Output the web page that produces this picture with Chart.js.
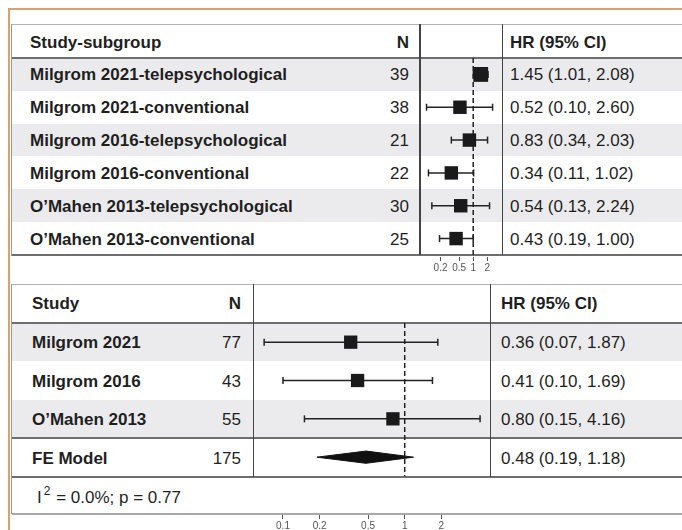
<!DOCTYPE html>
<html>
<head>
<meta charset="utf-8">
<title>Forest plot</title>
<script src="https://cdn.jsdelivr.net/npm/chart.js@4.4.1/dist/chart.umd.min.js"></script>
<style>
  html, body { margin: 0; padding: 0; background: #fff; }
  body {
    position: relative; width: 682px; height: 530px; overflow: hidden;
    font-family: "Liberation Sans", Arial, Helvetica, sans-serif; color: #1f1f1f;
  }
  #table { position: absolute; left: 0; top: 0; width: 682px; height: 530px; }
  .cell { position: absolute; font-size: 17px; line-height: 20px; white-space: nowrap; }
  .b { font-weight: bold; }
  .cell sup { font-size: 12px; position: relative; top: -7px; vertical-align: top; margin-left: 2px; margin-right: 1px; }
  canvas { position: absolute; z-index: 1; }
</style>
</head>
<body>
<div id="table"></div>
<canvas id="subgroupPlot"></canvas>
<canvas id="studyPlot"></canvas>
<script>
// Per study and intervention arm
var subgroupLabels = [
    'Milgrom 2021-telepsychological',
    'Milgrom 2021-conventional',
    'Milgrom 2016-telepsychological',
    'Milgrom 2016-conventional',
    'O\u2019Mahen 2013-telepsychological',
    'O\u2019Mahen 2013-conventional'
];
var subgroupN = [39, 38, 21, 22, 30, 25];
var subgroupHR = [1.45, 0.52, 0.83, 0.34, 0.54, 0.43];
var subgroupLower = [1.01, 0.10, 0.34, 0.11, 0.13, 0.19];
var subgroupUpper = [2.08, 2.60, 2.03, 1.02, 2.24, 1.00];
var subgroupTicks = [0.2, 0.5, 1, 2];

// Per study, plus the fixed-effect pooled estimate
var studyLabels = ['Milgrom 2021', 'Milgrom 2016', 'O\u2019Mahen 2013'];
var studyN = [77, 43, 55];
var studyHR = [0.36, 0.41, 0.80];
var studyLower = [0.07, 0.10, 0.15];
var studyUpper = [1.87, 1.69, 4.16];
var pooledLabel = 'FE Model';
var pooledN = 175;
var pooledHR = 0.48;
var pooledLower = 0.19;
var pooledUpper = 1.18;
var studyTicks = [0.1, 0.2, 0.5, 1, 2];
var i2Value = '0.0%';
var pValue = '0.77';

var INK = '#222';
var BAND = '#ebebed';
var table = document.getElementById('table');

function rect(left, top, width, height, color) {
    var d = document.createElement('div');
    d.style.cssText = 'position:absolute;left:' + left + 'px;top:' + top + 'px;width:' +
        width + 'px;height:' + height + 'px;background:' + color + ';';
    table.appendChild(d);
}

function cell(html, x, yMid, bold, alignRight) {
    var d = document.createElement('div');
    d.className = 'cell' + (bold ? ' b' : '');
    d.innerHTML = html;
    d.style.top = (yMid - 9) + 'px';
    if (alignRight) {
        d.style.right = (682 - x) + 'px';
    } else {
        d.style.left = x + 'px';
    }
    table.appendChild(d);
}

function ciText(hr, lo, hi) {
    return hr.toFixed(2) + ' (' + lo.toFixed(2) + ', ' + hi.toFixed(2) + ')';
}

// outer frame
rect(8, 8, 2, 522, '#d8a26f');
rect(8, 8, 674, 2, '#d8a26f');

// ---- subgroup table ----
var topRowH = (255 - 58) / 6;
subgroupLabels.forEach(function(label, i) {
    var y0 = 58 + i * topRowH;
    if (i % 2 === 0) {
        rect(12, y0, 680, topRowH, BAND);
    }
    var mid = y0 + topRowH / 2;
    cell(label, 30, mid, true, false);
    cell(String(subgroupN[i]), 409, mid, false, true);
    cell(ciText(subgroupHR[i], subgroupLower[i], subgroupUpper[i]), 510, mid, false, false);
});
rect(12, 24, 680, 1, '#b4b4b4');
rect(12, 57, 680, 2, '#6e6e6e');
rect(12, 254, 680, 2, '#6e6e6e');
rect(11, 24, 1, 232, '#9a9a9a');
rect(419, 24, 1.5, 231, '#444');
rect(501.5, 24, 1.5, 231, '#444');
cell('Study-subgroup', 30, 42, true, false);
cell('N', 409, 42, true, true);
cell('HR (95% CI)', 510, 42, true, false);

// ---- study table ----
var botRowH = (438 - 323) / 3;
studyLabels.forEach(function(label, i) {
    var y0 = 323 + i * botRowH;
    if (i % 2 === 0) {
        rect(12, y0, 680, botRowH, BAND);
    }
    var mid = y0 + botRowH / 2;
    cell(label, 32, mid, true, false);
    cell(String(studyN[i]), 241, mid, false, true);
    cell(ciText(studyHR[i], studyLower[i], studyUpper[i]), 501, mid, false, false);
});
cell(pooledLabel, 32, 458, true, false);
cell(String(pooledN), 241, 458, false, true);
cell(ciText(pooledHR, pooledLower, pooledUpper), 501, 458, false, false);
cell('I<sup>2</sup> = ' + i2Value + '; p = ' + pValue, 37, 497, false, false);
rect(12, 284, 680, 1, '#b4b4b4');
rect(12, 322, 680, 2, '#6e6e6e');
rect(12, 437, 680, 2, '#6e6e6e');
rect(12, 476, 680, 2, '#6e6e6e');
rect(12, 513, 680, 1.5, '#a8a8a8');
rect(11, 284, 1, 230, '#9a9a9a');
rect(252.5, 284, 1.5, 193, '#444');
rect(489.5, 284, 1.5, 193, '#444');
cell('Study', 32, 303, true, false);
cell('N', 241, 303, true, true);
cell('HR (95% CI)', 501, 303, true, false);

// ---- forest plots ----
Chart.defaults.font.family = '"Liberation Sans", Arial, sans-serif';

function whisker(lo, hi, row) {
    return {
        data: [{x: lo, y: row}, {x: hi, y: row}],
        borderColor: INK,
        borderWidth: 1.5,
        pointStyle: 'line',
        pointRotation: 90,
        pointRadius: 3.5,
        pointBorderColor: INK,
        pointBorderWidth: 1.5,
        order: 2
    };
}

function squares(hr, radius) {
    return {
        data: hr.map(function(v, i) { return {x: v, y: i + 1}; }),
        showLine: false,
        pointStyle: 'rect',
        pointRadius: radius,
        pointBackgroundColor: '#1a1a1a',
        pointBorderWidth: 0,
        order: 0
    };
}

function refLine(yTo) {
    return {
        data: [{x: 1, y: 0.5}, {x: 1, y: yTo}],
        borderColor: INK,
        borderWidth: 1.5,
        borderDash: [5, 3],
        pointRadius: 0,
        order: 1
    };
}

function makeForest(id, left, top, width, height, axisH, xMin, xMax, yMax, ticks, datasets) {
    var canvas = document.getElementById(id);
    canvas.width = width;
    canvas.height = height;
    canvas.style.left = left + 'px';
    canvas.style.top = top + 'px';
    return new Chart(canvas, {
        type: 'line',
        data: {datasets: datasets},
        options: {
            responsive: false,
            animation: false,
            layout: {padding: 0, autoPadding: false},
            plugins: {legend: {display: false}, tooltip: {enabled: false}},
            scales: {
                x: {
                    type: 'logarithmic',
                    min: xMin,
                    max: xMax,
                    border: {display: false},
                    grid: {drawOnChartArea: false, drawTicks: true, tickLength: 4, color: '#555'},
                    ticks: {
                        autoSkip: false,
                        maxRotation: 0,
                        padding: 1,
                        color: '#555',
                        font: {size: 10},
                        callback: function(value) {
                            return String(value);
                        }
                    },
                    afterBuildTicks: function(scale) {
                        scale.ticks = ticks.map(function(v) { return {value: v}; });
                    },
                    afterFit: function(scale) {
                        scale.height = axisH;
                    }
                },
                y: {
                    type: 'linear',
                    reverse: true,
                    min: 0.5,
                    max: yMax,
                    display: false
                }
            }
        }
    });
}

var subgroupSets = [squares(subgroupHR, [10.5, 9.5, 9.5, 9.5, 9.5, 9.5]), refLine(6.5)]
    .concat(subgroupHR.map(function(v, i) {
        return whisker(subgroupLower[i], subgroupUpper[i], i + 1);
    }));

// rows 1..3 are studies, row 4 is the pooled diamond
var diamondHalf = 0.16;
var studySets = [squares(studyHR, 9.4), refLine(4.5), {
    data: [{x: pooledLower, y: 4}, {x: pooledHR, y: 4 - diamondHalf}, {x: pooledUpper, y: 4}],
    borderColor: '#111',
    borderWidth: 1,
    pointRadius: 0,
    order: 0
}, {
    data: [{x: pooledLower, y: 4}, {x: pooledHR, y: 4 + diamondHalf}, {x: pooledUpper, y: 4}],
    fill: '-1',
    backgroundColor: '#111',
    borderColor: '#111',
    borderWidth: 1,
    pointRadius: 0,
    order: 0
}].concat(studyHR.map(function(v, i) {
    return whisker(studyLower[i], studyUpper[i], i + 1);
}));

makeForest('subgroupPlot', 419, 58, 83, 217, 18, 0.069, 4.14, 0.5 + 199 / topRowH,
    subgroupTicks, subgroupSets);
makeForest('studyPlot', 253, 323, 237, 207, 15, 0.0567, 5.02, 0.5 + 192 / botRowH,
    studyTicks, studySets);
</script>
</body>
</html>
